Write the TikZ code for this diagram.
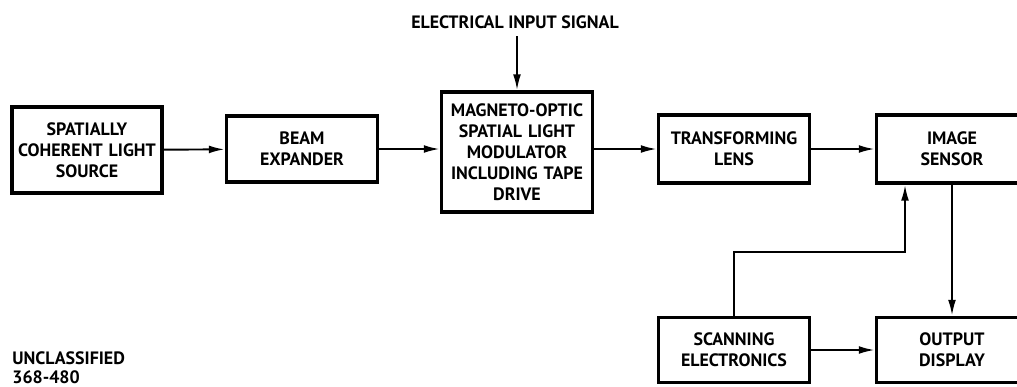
\documentclass[tikz,border=0pt]{standalone}
\usepackage{fontspec}
\setmainfont{PT Sans}
\usetikzlibrary{arrows.meta,positioning}

\begin{document}
\begin{tikzpicture}[
    x=0.02cm, y=-0.02cm,
    block/.style={rectangle, draw=black, line width=2.2pt, text width=2.9cm, align=center, minimum width=3.02cm, font=\fontsize{10.2}{12}\selectfont\bfseries, inner sep=0pt},
    flow/.style={-{Latex[length=9pt,width=4.5pt]}, line width=1.1pt},
    label/.style={font=\fontsize{10.2}{12}\selectfont\bfseries, inner sep=0pt}
]
\useasboundingbox (0,0) rectangle (1017,386);

% Optical path
\node[block, minimum height=1.72cm, minimum width=3cm] (source) at (87,150) {SPATIALLY\\COHERENT LIGHT\\SOURCE};
\node[block, minimum height=1.32cm] (expander) at (302,149) {BEAM\\EXPANDER};
\node[block, minimum height=2.4cm] (modulator) at (517,152) {MAGNETO-OPTIC\\SPATIAL LIGHT\\MODULATOR\\INCLUDING TAPE\\DRIVE};
\node[block, minimum height=1.36cm] (lens) at (734,149) {TRANSFORMING\\LENS};
\node[block, minimum height=1.36cm] (sensor) at (952,149) {IMAGE\\SENSOR};

% Electronics
\node[block, minimum height=1.3cm] (scanning) at (734,350) {SCANNING\\ELECTRONICS};
\node[block, minimum height=1.3cm] (display) at (952,350) {OUTPUT\\DISPLAY};

% Input signal
\node[label] (signal) at (515,22) {ELECTRICAL INPUT SIGNAL};
\coordinate (signalend) at (517,36);
\coordinate (bend) at (905,252);

% Notes
\node[label, anchor=west] (unclass) at (12,358) {UNCLASSIFIED};
\node[label, anchor=west] (number) at (12,377) {368-480};

% Arrows
\draw[flow] (source) -- (expander);
\draw[flow] (expander.east) -- (expander.east -| modulator.west);
\draw[flow] (signalend) -- (modulator);
\draw[flow] (modulator.east |- lens.west) -- (lens.west);
\draw[flow] (lens) -- (sensor);
\draw[flow] (scanning.north) |- (bend) -- (bend |- sensor.south);
\draw[flow] (sensor) -- (display);
\draw[flow] (scanning) -- (display);

\end{tikzpicture}
\end{document}
